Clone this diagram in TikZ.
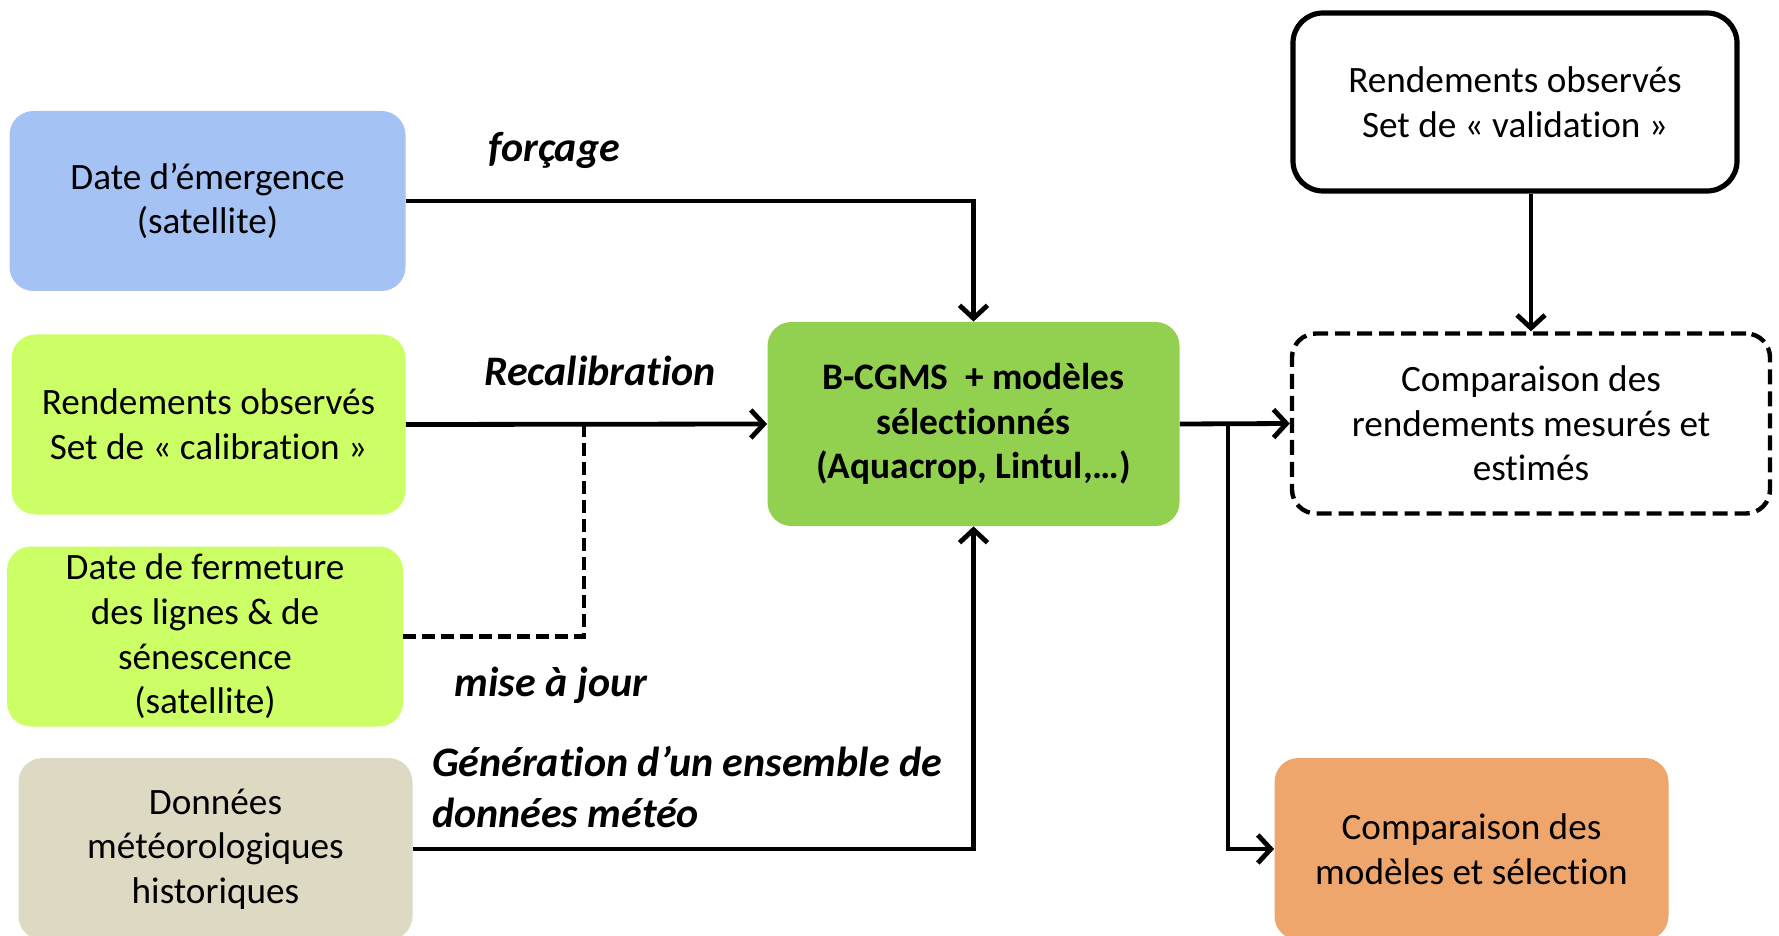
\documentclass[tikz,border=0pt]{standalone}
\usepackage{fontspec}
\setmainfont{Carlito}[Ligatures=NoCommon]
\usepackage{tikz}
\usetikzlibrary{arrows.meta}

\definecolor{bleuciel}{RGB}{164,194,244}
\definecolor{vertclair}{RGB}{204,255,102}
\definecolor{beige}{RGB}{221,217,195}
\definecolor{vertmodele}{RGB}{146,208,80}
\definecolor{orangesel}{RGB}{238,166,108}

\begin{document}
\begin{tikzpicture}[x=0.5pt,y=-0.5pt,
    boite/.style={rounded corners=12pt,align=center,inner sep=0pt,
      font=\fontsize{18.6}{22.3}\selectfont},
    etiquette/.style={font=\fontsize{21}{25.5}\selectfont\bfseries\itshape},
    fleche/.style={line width=2.4pt,-{Straight Barb[length=6.5pt,width=14pt,line width=2.4pt]}},
    pointille/.style={line width=2.4pt,dash pattern=on 6.5pt off 3pt}]
      \clip (0,0) rectangle (1779,936);
      % boites d'entree
      \node[boite,fill=bleuciel,minimum width=198pt,minimum height=90pt] (emerg) at (207.5,201) {Date d’émergence\\(satellite)};
      \node[boite,fill=vertclair,minimum width=197pt,minimum height=90pt] (calib) at (208.5,424.5) {Rendements observés\\Set de « calibration »};
      \node[boite,fill=vertclair,minimum width=198pt,minimum height=90pt] (ferm) at (205,636.5) {Date de fermeture\\des lignes \& de\\sénescence\\(satellite)};
      \node[boite,fill=beige,minimum width=197pt,minimum height=91pt] (meteo) at (215.5,849) {Données\\météorologiques\\historiques};
      % modele
      \node[boite,fill=vertmodele,minimum width=206pt,minimum height=102pt,font=\fontsize{18.7}{22.3}\selectfont\bfseries] (model) at (973.5,424) {B-CGMS~ + modèles\\sélectionnés\\(Aquacrop, Lintul,…)};
      % sorties
      \node[boite,draw,line width=2.6pt,rounded corners=15pt,minimum width=222pt,minimum height=89pt] (valid) at (1515,102) {Rendements observés\\Set de « validation »};
      \node[boite,draw,line width=2.2pt,dash pattern=on 7.5pt off 3.5pt,minimum width=239pt,minimum height=90pt] (comp) at (1531,423.5) {Comparaison des\\rendements mesurés et\\estimés};
      \node[boite,fill=orangesel,minimum width=197pt,minimum height=91pt] (sel) at (1471.5,849) {Comparaison des\\modèles et sélection};
      % fleches
      \coordinate (jonction) at (584,424.5);
      \coordinate (branche) at (1228,424);
      \draw[fleche] (emerg.east) -| (model.north);
      \draw[fleche] (calib.east) -- (model.west);
      \draw[pointille] (ferm.east) -| (jonction);
      \draw[fleche] (meteo.east) -| (model.south);
      \draw[fleche] (model.east) -- (comp.west);
      \draw[fleche] (branche) |- (sel.west);
      \draw[fleche] (valid.south -| comp.north) -- (comp.north);
      % etiquettes
      \node[etiquette] (forcage) at (554,150) {forçage};
      \node[etiquette] (recal) at (600,371) {Recalibration};
      \node[etiquette] (maj) at (551,685) {mise à jour};
      \node[etiquette,anchor=west,align=left] (gener) at (425,787) {Génération d’un ensemble de\\données météo};
\end{tikzpicture}
\end{document}
